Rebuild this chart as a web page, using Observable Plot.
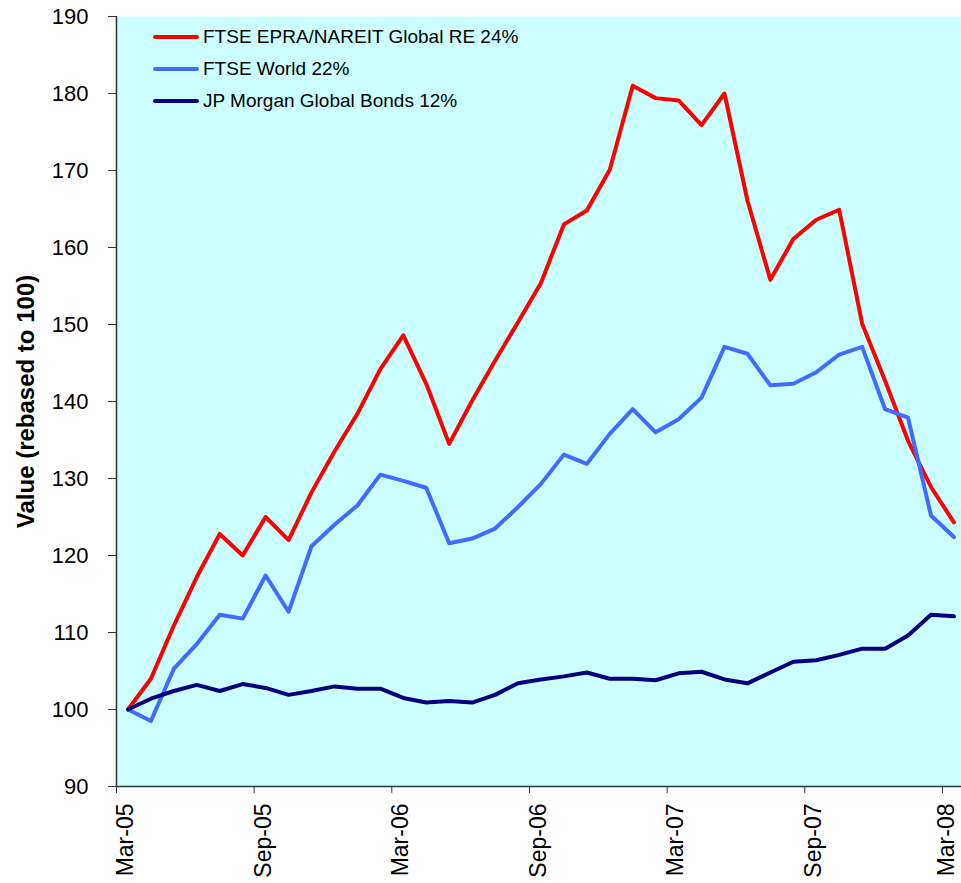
<!DOCTYPE html>
<html><head><meta charset="utf-8">
<script src="https://cdn.jsdelivr.net/npm/d3@7"></script>
<script src="https://cdn.jsdelivr.net/npm/@observablehq/plot@0.6"></script>
<style>
body{margin:0;background:#fff;}
#wrap{position:relative;width:961px;height:883px;overflow:hidden;}
#legend{position:absolute;left:153px;top:21px;font-family:"Liberation Sans",Arial,sans-serif;font-size:19px;color:#000;}
.row{display:flex;align-items:center;height:32px;white-space:nowrap;}
.sw{width:46px;height:4px;border-radius:2px;margin-right:4px;}
</style></head><body><div id="wrap"><div id="legend"></div></div>
<script>
const months = ["Mar-05","Apr-05","May-05","Jun-05","Jul-05","Aug-05","Sep-05","Oct-05","Nov-05","Dec-05","Jan-06","Feb-06",
  "Mar-06","Apr-06","May-06","Jun-06","Jul-06","Aug-06","Sep-06","Oct-06","Nov-06","Dec-06","Jan-07","Feb-07",
  "Mar-07","Apr-07","May-07","Jun-07","Jul-07","Aug-07","Sep-07","Oct-07","Nov-07","Dec-07","Jan-08","Feb-08","Mar-08"];
const tickLabels = ["Mar-05","Sep-05","Mar-06","Sep-06","Mar-07","Sep-07","Mar-08"];
const yTicks = [90,100,110,120,130,140,150,160,170,180,190];
const epra = [100,104.0,110.9,117.2,122.8,120.0,125.0,122.0,128.2,133.5,138.4,144.2,
  148.6,142.3,134.5,140.1,145.3,150.3,155.4,163.0,164.8,170.1,181.0,179.4,
  179.1,175.9,180.0,166.1,155.8,161.1,163.6,164.9,150.1,142.7,134.9,128.9,124.3];
const world = [100,98.5,105.3,108.5,112.3,111.8,117.4,112.7,121.2,124.0,126.5,130.5,
  129.7,128.8,121.6,122.2,123.5,126.3,129.3,133.1,131.9,135.8,139.0,136.0,
  137.7,140.5,147.1,146.2,142.1,142.3,143.8,146.1,147.1,139.0,137.9,125.2,122.4];
const bonds = [100,101.4,102.4,103.2,102.4,103.3,102.8,101.9,102.4,103.0,102.7,102.7,
  101.5,100.9,101.1,100.9,101.9,103.4,103.9,104.3,104.8,104.0,104.0,103.8,
  104.7,104.9,103.9,103.4,104.8,106.2,106.4,107.1,107.9,107.9,109.6,112.3,112.1];
const seriesNames = ["FTSE EPRA/NAREIT Global RE 24%","FTSE World 22%","JP Morgan Global Bonds 12%"];
const seriesColors = ["#FF0000","#3F6CFF","#000080"];
const seriesValues = [epra, world, bonds];

const data = seriesValues.flatMap((vals, s) => vals.map((v, i) => ({i, month: months[i], value: v, series: seriesNames[s]})));
const tickIdx = tickLabels.map(l => months.indexOf(l));
const boundaryIdx = tickIdx.map(i => i - 0.5);
const innerIdx = tickIdx.slice(0, -1);
const lastIdx = tickIdx.slice(-1);

const font = '"Liberation Sans", Arial, sans-serif';
const labelOpts = {tickSize: 0, tickPadding: 17, tickRotate: -90, fontSize: 23, label: null, tickFormat: i => months[i]};
const chart = Plot.plot({
  width: 961, height: 883,
  marginLeft: 116, marginRight: 0, marginTop: 16, marginBottom: 97,
  style: {fontFamily: font, background: "transparent", color: "#000"},
  x: {type: "linear", domain: [-0.5, 36.33]},
  y: {domain: [90, 190]},
  color: {domain: seriesNames, range: seriesColors},
  marks: [
    Plot.frame({fill: "#CCFFFF", stroke: null}),
    Plot.line(data, {x: "i", y: "value", z: "series", stroke: "series", strokeWidth: 4, strokeLinejoin: "round", strokeLinecap: "round"}),
    Plot.ruleX([-0.5], {stroke: "#333", strokeWidth: 1.5}),
    Plot.ruleY([90], {stroke: "#333", strokeWidth: 1.5}),
    Plot.axisY({ticks: yTicks, tickSize: 8, tickPadding: 20, fontSize: 22, label: null, stroke: "#333"}),
    Plot.axisX({ticks: boundaryIdx, tickSize: 7, fill: "none", label: null, stroke: "#333"}),
    Plot.axisX({...labelOpts, ticks: innerIdx, dx: -2.5}),
    Plot.axisX({...labelOpts, ticks: lastIdx, dx: -7}),
    Plot.text(["Value (rebased to 100)"], {frameAnchor: "left", textAnchor: "middle", rotate: -90, dx: -90, fontWeight: "bold", fontSize: 24, fill: "#000"})
  ]
});
document.getElementById("wrap").prepend(chart);

const legend = document.getElementById("legend");
seriesNames.forEach((n, k) => {
  const row = document.createElement("div");
  row.className = "row";
  const sw = document.createElement("div");
  sw.className = "sw";
  sw.style.background = seriesColors[k];
  const t = document.createElement("span");
  t.textContent = n;
  row.append(sw, t);
  legend.append(row);
});
</script></body></html>
